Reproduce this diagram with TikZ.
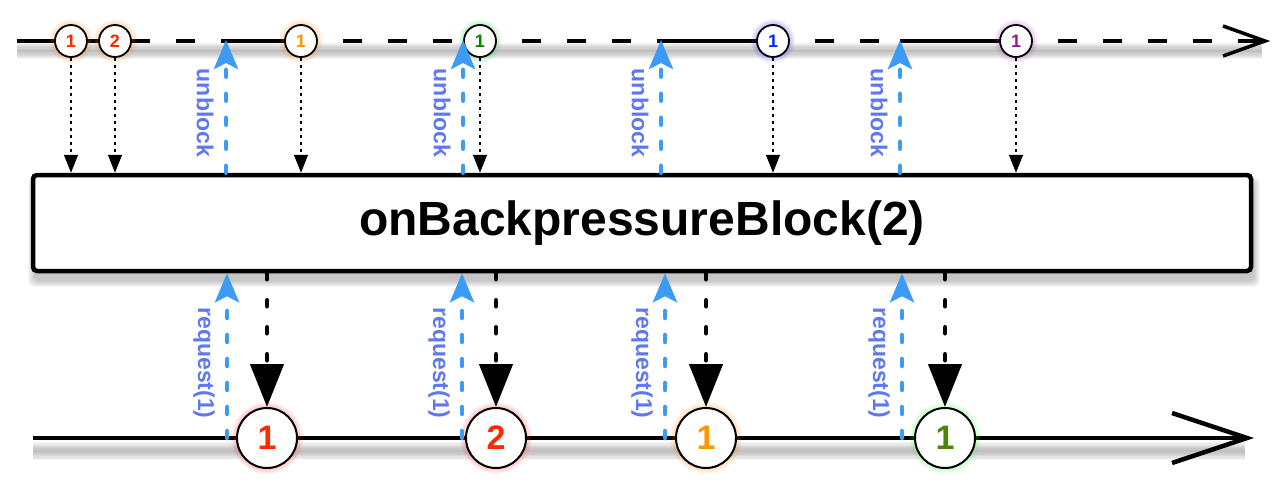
\documentclass[tikz,border=0pt]{standalone}
\usepackage{fontspec}
\setmainfont{Liberation Sans}
\usetikzlibrary{arrows.meta}
\definecolor{rxred}{RGB}{255,40,0}
\definecolor{rxorange}{RGB}{255,150,0}
\definecolor{rxgreen}{RGB}{0,135,0}
\definecolor{rxolive}{RGB}{75,135,0}
\definecolor{rxblue}{RGB}{0,40,255}
\definecolor{rxpurple}{RGB}{140,30,150}
\definecolor{glowred}{RGB}{255,40,40}
\definecolor{gloworange}{RGB}{255,130,0}
\definecolor{glowgreen}{RGB}{40,200,40}
\definecolor{glowlime}{RGB}{50,255,50}
\definecolor{glowblue}{RGB}{30,40,255}
\definecolor{glowpurple}{RGB}{170,60,190}
\definecolor{arrowblue}{RGB}{60,155,245}
\definecolor{labelblue}{RGB}{95,120,240}
\tikzset{
 topball/.style={circle,draw=black,line width=1.8pt,fill=white,minimum size=32pt,inner sep=0pt,font=\bfseries\fontsize{18}{18}\selectfont},
 botball/.style={circle,draw=black,line width=2pt,fill=white,minimum size=60pt,inner sep=0pt,font=\bfseries\fontsize{34}{34}\selectfont},
 opbox/.style={draw=black,line width=4.5pt,rounded corners=4pt,fill=white,minimum width=1218pt,minimum height=96pt,inner sep=0pt,font=\bfseries\fontsize{48}{50}\selectfont},
 emitarrow/.style={black,line width=1.4pt,dash pattern=on 3pt off 4pt,-{Triangle[length=18pt,width=14pt]}},
 outarrow/.style={black,line width=4.5pt,line cap=round,dash pattern=on 6pt off 21pt,-{Triangle[length=43pt,width=33pt]}},
 reqarrow/.style={arrowblue,line width=4.5pt,line cap=round,dash pattern=on 7pt off 17pt,-{Stealth[length=29pt,width=24pt,inset=6pt]}},
 lbl/.style={text=labelblue,font=\bfseries\fontsize{23}{23}\selectfont,rotate=-90,inner sep=0pt},
 timeline/.style={black,line width=3.5pt},
 blocked/.style={white,line width=3.2pt,dash pattern=on 26pt off 19pt},
}
\newcommand\glowat[4]{\foreach \gi in {1,...,6}{\fill[#1,opacity=0.05] (#2,#3) circle[radius=#4+\gi];}}
\begin{document}
\begin{tikzpicture}[x=1pt,y=-1pt]
\useasboundingbox (0,0) rectangle (1280,490);
% shadows
\foreach \i in {1,...,7} \draw[black,opacity=0.04,line width=\i*2.4pt] (17,51)--(1262,51);
\foreach \i in {1,...,7} \draw[black,opacity=0.04,line width=\i*2.6pt] (33,451)--(1245,451);
\foreach \i in {1,...,7} \fill[black,opacity=0.035,rounded corners=6pt] (35-\i,184-\i) rectangle (1253+\i,280+\i);
% top timeline
\coordinate (tstart) at (17,41);
\coordinate (tend) at (1265,41);
\draw[timeline] (tstart) -- (1262,41);
\draw[blocked,dash phase=26pt] (131,41) -- (226,41);
\draw[blocked] (317,41) -- (464,41);
\draw[blocked] (496,41) -- (661,41);
\draw[blocked] (789,41) -- (900,41);
\draw[blocked] (1032,41) -- (1255,41);
\draw[timeline,line join=miter] (1223,26) -- (tend) -- (1223,56);
% bottom timeline
\coordinate (bstart) at (33,438);
\coordinate (bend) at (1247,438);
\draw[black,line width=4pt] (bstart) -- (1243,438);
\draw[black,line width=4.5pt,line join=miter] (1172,413) -- (bend) -- (1172,463);
% operator box
\node[opbox] (op) at (642,223) {onBackpressureBlock(2)};
% top marbles
\glowat{gloworange}{71}{41}{16}
\glowat{gloworange}{115}{41}{16}
\glowat{gloworange}{301}{41}{16}
\glowat{glowgreen}{480}{41}{16}
\glowat{glowblue}{773}{41}{16}
\glowat{glowpurple}{1016}{41}{16}
\node[topball,text=rxred] (t1) at (71,41) {1};
\node[topball,text=rxred] (t2) at (115,41) {2};
\node[topball,text=rxorange] (t3) at (301,41) {1};
\node[topball,text=rxgreen] (t4) at (480,41) {1};
\node[topball,text=rxblue] (t5) at (773,41) {1};
\node[topball,text=rxpurple] (t6) at (1016,41) {1};
\foreach \t in {t1,t2,t3,t4,t5,t6} \draw[emitarrow] (\t.south) -- (\t.south |- op.north);
% unblock arrows
\foreach \x/\n in {226/1,463/2,661/3,900/4}{
  \coordinate (u\n) at (\x,40);
  \draw[reqarrow] (u\n |- op.north) -- (u\n);
  \node[lbl] (lu\n) at (\x-21,113) {unblock};
}
% bottom marbles
\glowat{glowred}{267}{438}{30}
\glowat{glowred}{496}{438}{30}
\glowat{gloworange}{706}{438}{30}
\glowat{glowlime}{945}{438}{30}
\node[botball,text=rxred] (b1) at (267,438) {1};
\node[botball,text=rxred] (b2) at (496,438) {2};
\node[botball,text=rxorange] (b3) at (706,438) {1};
\node[botball,text=rxolive] (b4) at (945,438) {1};
\foreach \b in {b1,b2,b3,b4} \draw[outarrow] (\b.north |- op.south) -- (\b.north);
% request arrows
\foreach \x/\n in {227/1,462/2,665/3,902/4}{
  \coordinate (r\n) at (\x,438);
  \draw[reqarrow] (r\n) -- (r\n |- op.south);
  \node[lbl] (lr\n) at (\x-23,363) {request(1)};
}
\end{tikzpicture}
\end{document}
